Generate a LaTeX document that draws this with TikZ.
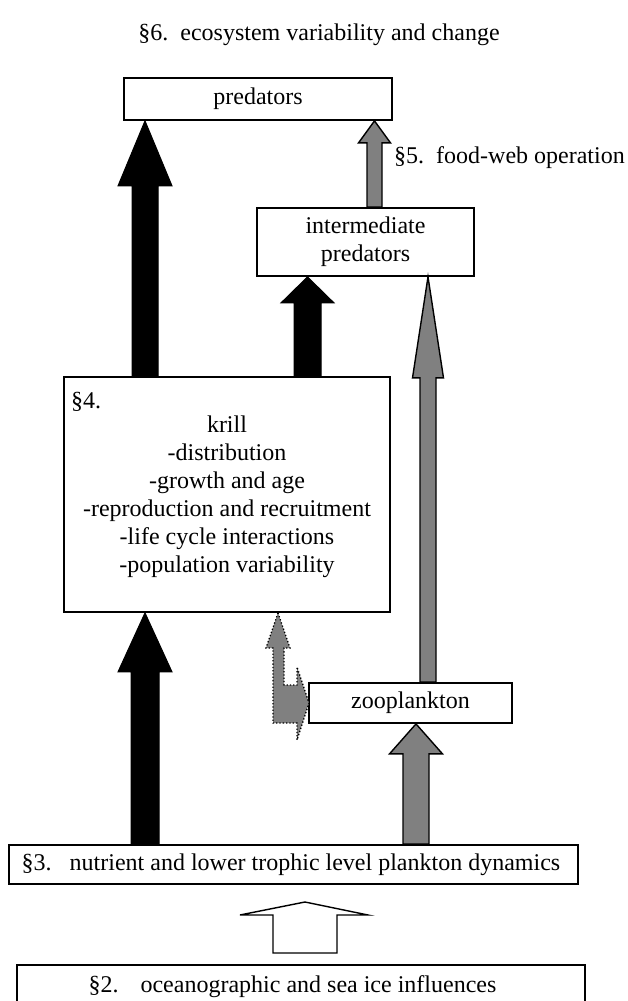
\documentclass[tikz,border=0pt]{standalone}
\usepackage{fontspec}
\setmainfont{Liberation Serif}
\usetikzlibrary{calc}
\definecolor{gray50}{HTML}{808080}
\tikzset{
  box/.style={draw, line width=1.8pt, fill=white, inner sep=0pt, align=center,
    font=\fontsize{24}{28}\selectfont},
  txt/.style={inner sep=0pt, font=\fontsize{24}{28}\selectfont},
  blk/.style={fill=black, draw=black, line width=1pt},
  gry/.style={fill=gray50, draw=black, line width=1.4pt},
  dotarrow/.style={fill=gray50, draw=black, dotted, line width=1.3pt},
  hollow/.style={fill=white, draw=black, line width=1.4pt},
}
% #1 style, #2 x, #3 from node, #4 to node, #5 shaft half width, #6 head half width, #7 head length
\newcommand\blockup[7]{%
  \path[#1] let \p1=(#3.north), \p2=(#4.south) in
    ({(#2-#5)*1pt},\y1) -- ({(#2-#5)*1pt},{\y2-#7pt}) -- ({(#2-#6)*1pt},{\y2-#7pt})
    -- ({#2*1pt},\y2) -- ({(#2+#6)*1pt},{\y2-#7pt}) -- ({(#2+#5)*1pt},{\y2-#7pt})
    -- ({(#2+#5)*1pt},\y1) -- cycle;}
\begin{document}
\begin{tikzpicture}[x=1pt,y=-1pt]
\useasboundingbox (0,0) rectangle (628,1001);
\clip (0,0) rectangle (628,1001);

% title and label
\node[txt, anchor=base] (title) at (319,40) {§6.\hspace{12pt}ecosystem variability and change};
\node[txt, anchor=base west] (fw) at (394,163) {§5.\hspace{12pt}food-web operation};

% boxes
\node[box, minimum width=268pt, minimum height=42pt] (pred) at (258,99) {predators};
\node[box, minimum width=217pt, minimum height=68pt] (inter) at (365.5,242) {intermediate\\predators};
\node[box, minimum width=326pt, minimum height=235pt] (krill) at (227,494.5) {};
\node[txt, align=center] (krilltext) at (227,497) {krill\\-distribution\\-growth and age\\-reproduction and recruitment\\-life cycle interactions\\-population variability};
\node[txt, anchor=base west] (s4) at (71,408) {§4.};
\node[box, minimum width=203pt, minimum height=40pt] (zoo) at (410.5,703) {zooplankton};
\node[box, minimum width=569pt, minimum height=39pt] (s3) at (293.5,864.5) {\hspace*{-5pt}§3.\hspace{18pt}nutrient and lower trophic level plankton dynamics};
\node[box, minimum width=568pt, minimum height=44pt] (s2) at (301,987) {\hspace*{-17pt}§2.\hspace{22pt}oceanographic and sea ice influences};

% block arrows
\blockup{blk}{145}{krill}{pred}{13}{27}{65}
\blockup{blk}{307.5}{krill}{inter}{13.5}{26.5}{26}
\blockup{blk}{145}{s3}{krill}{14}{27}{59}
\blockup{gry}{374.5}{inter}{pred}{7.5}{16}{22}
\blockup{gry}{428}{zoo}{inter}{8}{15.5}{101}
\blockup{gry}{416}{s3}{zoo}{13}{26.5}{30}

% dotted bent arrow (krill <-> zooplankton)
\path[dotarrow] (278,613) -- (290,648) -- (284,648) -- (284,685) -- (297,685)
  -- (297,667) -- (309,703) -- (297,740) -- (297,723) -- (273,723) -- (273,648)
  -- (266,648) -- cycle;

% hollow arrow (sea ice -> plankton)
\path[hollow] (273,953) -- (273,915) -- (240,915) -- (305,902) -- (368,915)
  -- (337,915) -- (337,953) -- cycle;
\end{tikzpicture}
\end{document}
